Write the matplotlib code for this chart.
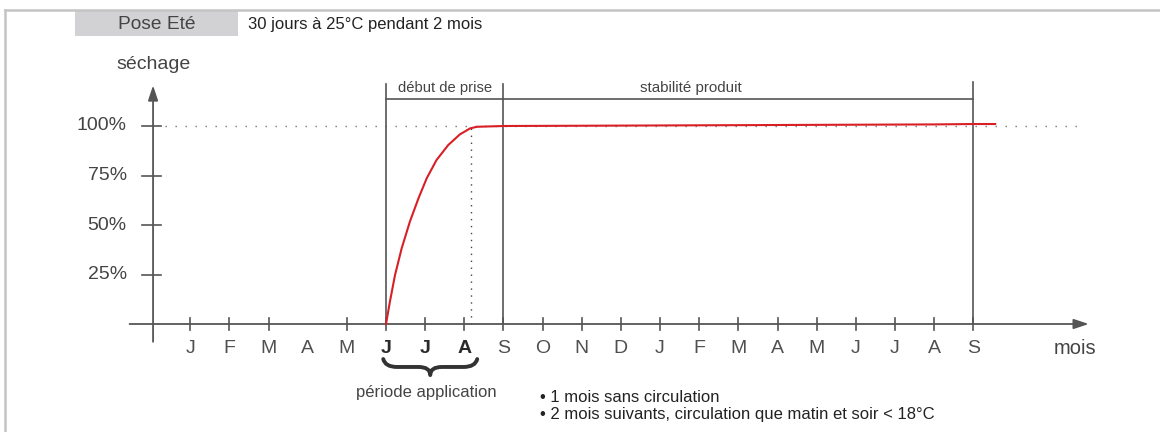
#!/usr/bin/env python3

from matplotlib import pyplot as plt
from matplotlib.path import Path
from matplotlib.lines import Line2D
import matplotlib.patches as mpatches

plt.rcParams["font.family"] = ["Liberation Sans", "DejaVu Sans"]

# months counted from June of the application year (June = 0)
month_labels = ["J", "F", "M", "A", "M", "J", "J", "A", "S", "O", "N", "D",
                "J", "F", "M", "A", "M", "J", "J", "A", "S"]
month_pos = list(range(-5, 16))
bold_months = [0, 1, 2]
missing_ticks = [-2]

pct_ticks = [25, 50, 75, 100]
pct_labels = ["25%", "50%", "75%", "100%"]

# drying curve (séchage, %)
curve_x = [0, 0.1, 0.23, 0.4, 0.61, 0.83, 1.04, 1.29, 1.59, 1.89, 2.15,
           2.32, 2.66, 3.0, 6.0, 10.0, 14.0, 15.0, 15.56]
curve_y = [0, 11.3, 24.7, 38.2, 51.7, 63.5, 73.6, 82.8, 90.4, 95.8, 98.8,
           99.6, 99.8, 100, 100.2, 100.5, 100.8, 101, 101]

phase_edges = [0, 3, 15]
phase_names = ["début de prise", "stabilité produit"]
full_dry = 2.17

notes = ["• 1 mois sans circulation",
         "• 2 mois suivants, circulation que matin et soir < 18°C"]

W, H = 1160, 432
px_month, x0 = 39.15, 386
px_pct, y0 = 1.98, 324

fig = plt.figure(figsize=(W / 100, H / 100), dpi=100)
ax = fig.add_axes([0, 0, 1, 1])
ax.set_xlim(-x0 / px_month, (W - x0) / px_month)
ax.set_ylim((y0 - H) / px_pct, y0 / px_pct)
ax.axis("off")

axc = "#555555"
txt = "#444444"

# frame (top and left only)
fig.add_artist(Line2D([5 / W, 1], [1 - 9.5 / H] * 2, color="#c4c4c4", lw=1.8))
fig.add_artist(Line2D([5 / W] * 2, [0, 1 - 9.5 / H], color="#c4c4c4", lw=1.8))

# header
ax.add_patch(mpatches.Rectangle((-7.94, 145.5), 4.16, 13.0, color="#d2d2d4",
                                lw=0, zorder=0))
ax.text(-5.85, 151.5, "Pose Eté", ha="center", va="center", fontsize=13.8, color=txt)
ax.text(-3.52, 151.5, "30 jours à 25°C pendant 2 mois", ha="left", va="center",
        fontsize=12, color="#222222")

# axes with arrows
ax.annotate("", xy=(17.95, 0), xytext=(-6.55, 0),
            arrowprops=dict(arrowstyle="-|>,head_length=0.9,head_width=0.3",
                            color=axc, lw=1.3, shrinkA=0, shrinkB=0))
ax.annotate("", xy=(-5.95, 120.5), xytext=(-5.95, -9),
            arrowprops=dict(arrowstyle="-|>,head_length=0.9,head_width=0.3",
                            color=axc, lw=1.3, shrinkA=0, shrinkB=0))
ax.text(-5.95, 131, "séchage", ha="center", va="center", fontsize=14, color=txt)
ax.text(17.6, -12.6, "mois", ha="center", va="center", fontsize=14.5, color=txt)

# y ticks
for v, lab in zip(pct_ticks, pct_labels):
    ax.plot([-6.23, -5.75], [v, v], color=axc, lw=1.2)
    ax.text(-6.62, v, lab, ha="right", va="center", fontsize=14, color=txt)

# x ticks and month labels
for m, lab in zip(month_pos, month_labels):
    if m not in missing_ticks:
        ax.plot([m, m], [-2.8, 2.8], color=axc, lw=1.2)
    bold = m in bold_months
    ax.text(m, -12.6, lab, ha="center", va="center", fontsize=14,
            fontweight="bold" if bold else "normal",
            color="#2a2a2a" if bold else "#505050")

# 100 % reference and full-dry marker
ax.plot([-5.65, 17.8], [100, 100], color="#777777", lw=1,
        linestyle=(0, (1, 6.2)), zorder=1)
ax.plot([full_dry, full_dry], [0, 100], color="#444444", lw=1,
        linestyle=(0, (1, 4)), zorder=1)

# phase brackets
tops = [121, 121, 122]
for e, t in zip(phase_edges, tops):
    ax.plot([e, e], [0, t], color=axc, lw=1.2)
ax.plot([phase_edges[0], phase_edges[-1]], [113.5, 113.5], color=axc, lw=1.2)
ax.text((phase_edges[0] + phase_edges[1]) / 2, 119, phase_names[0],
        ha="center", va="center", fontsize=10.6, color=txt)
ax.text(7.8, 119, phase_names[1], ha="center", va="center", fontsize=10.9,
        color=txt)

# drying curve
ax.plot(curve_x, curve_y, color="#d91f26", lw=1.5, zorder=3)

# brace under the application months
bx0, bx1 = -0.07, 2.33
bm = (bx0 + bx1) / 2
yt, ymid, yb = -17.7, -21.7, -25.8
verts = [(bx0, yt), (bx0 + 0.05, ymid), (bx0 + 0.35, ymid),
         (bm - 0.3, ymid), (bm, ymid), (bm, yb),
         (bm, ymid), (bm + 0.3, ymid),
         (bx1 - 0.35, ymid), (bx1 - 0.05, ymid), (bx1, yt)]
codes = [Path.MOVETO, Path.CURVE3, Path.CURVE3,
         Path.LINETO, Path.CURVE3, Path.CURVE3,
         Path.CURVE3, Path.CURVE3,
         Path.LINETO, Path.CURVE3, Path.CURVE3]
ax.add_patch(mpatches.PathPatch(Path(verts, codes), fill=False,
                                edgecolor="#333333", lw=2.8,
                                capstyle="round", joinstyle="round"))
ax.text(1.03, -34.5, "période application", ha="center", va="center",
        fontsize=12, color=txt)

# notes
ax.text(3.93, -37.0, notes[0], ha="left", va="center", fontsize=12, color="#222222")
ax.text(3.93, -45.5, notes[1], ha="left", va="center", fontsize=12, color="#222222")

fig.savefig("out.png", dpi=100)
